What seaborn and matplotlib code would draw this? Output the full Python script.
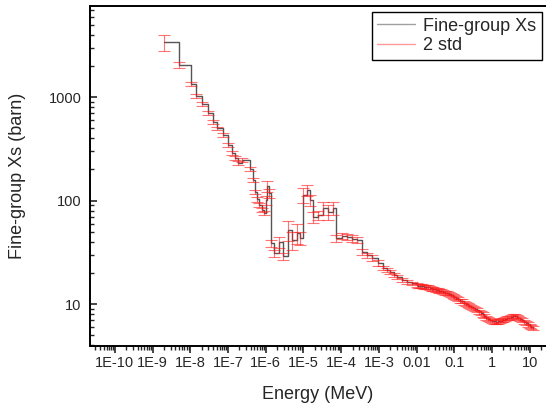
import numpy as np
import pandas as pd
import matplotlib
matplotlib.use("Agg")
import matplotlib.pyplot as plt
import seaborn as sns
from matplotlib.lines import Line2D
from matplotlib.ticker import LogLocator, NullFormatter

# group lower energies (MeV), cross sections (barn) and 2-std error (%)
e_thermal = [2.0e-9, 5.0e-9, 1.05e-8, 1.4e-8, 2.0e-8, 2.9e-8, 4.0e-8, 5.1e-8,
             7.3e-8, 1.0e-7, 1.26e-7, 1.5e-7, 1.8e-7, 2.3e-7, 3.8e-7, 4.6e-7,
             5.2e-7, 5.8e-7, 6.6e-7, 7.9e-7, 8.9e-7, 1.0e-6, 1.11e-6, 1.22e-6]
xs_thermal = [3400, 2040, 1340, 1020, 855, 700, 573, 500,
              430, 344, 288, 257, 230, 246, 201, 158,
              121, 103, 90.5, 81, 76, 101, 138, 118]
err_thermal = [18, 6, 4, 4, 4, 4, 4, 4,
               4, 4, 4, 4, 4, 4, 4, 4,
               5, 5, 5, 5, 5, 10, 12, 10]

e_reson = [1.37e-6, 1.65e-6, 2.25e-6, 2.9e-6, 3.9e-6, 4.95e-6, 6.7e-6, 8.1e-6,
           9.8e-6, 1.24e-5, 1.48e-5, 1.78e-5, 2.4e-5, 3.3e-5, 4.5e-5, 6.0e-5,
           7.2e-5, 1.05e-4, 1.42e-4, 1.94e-4, 2.6e-4, 3.55e-4, 4.8e-4, 6.6e-4,
           9.5e-4, 1.3e-3, 1.6e-3, 1.97e-3, 2.5e-3, 3.0e-3, 4.2e-3, 5.6e-3, 7.5e-3]
xs_reson = [38.8, 31.1, 39.7, 29.1, 51.9, 41.5, 48.5, 43.5,
            113, 126, 101, 69, 72.4, 84.7, 77.5, 84.7,
            43.5, 45.4, 44.4, 43.0, 41.5, 31.8, 29.7, 27.8,
            24.9, 22.3, 21.3, 20.4, 19.2, 18.2, 17.2, 16.3, 15.8]
err_reson = [8, 8, 12, 8, 22, 20, 22, 14,
             16, 12, 12, 12, 10, 14, 16, 14,
             8, 7, 7, 7, 7, 7, 6, 6,
             6, 5, 5, 5, 5, 5, 4, 4, 4]

e_fast = [0.010, 0.011, 0.0125, 0.014, 0.016, 0.018, 0.020, 0.0225, 0.025, 0.028,
          0.032, 0.036, 0.040, 0.045, 0.050, 0.056, 0.063, 0.071, 0.080, 0.090,
          0.10, 0.112, 0.125, 0.14, 0.16, 0.18, 0.20, 0.225, 0.25, 0.28,
          0.32, 0.36, 0.40, 0.45, 0.50, 0.56, 0.63, 0.71, 0.80, 0.90,
          1.0, 1.12, 1.25, 1.4, 1.6, 1.8, 2.0, 2.25, 2.5, 2.8,
          3.2, 3.6, 4.0, 4.5, 5.0, 5.6, 6.3, 7.1, 8.0, 9.0,
          10.0, 11.0, 12.0]
xs_fast = [15.3, 15.1, 14.9, 14.8, 14.7, 14.6, 14.5, 14.3, 14.1, 14.0,
           13.8, 13.6, 13.4, 13.3, 13.1, 12.9, 12.8, 12.5, 12.2, 11.9,
           11.6, 11.4, 11.1, 10.8, 10.6, 10.3, 10.1, 9.86, 9.63, 9.40,
           9.14, 8.92, 8.75, 8.47, 8.20, 7.93, 7.66, 7.41, 7.22, 7.06,
           6.92, 6.78, 6.72, 6.79, 6.87, 6.95, 7.02, 7.14, 7.26, 7.38,
           7.52, 7.65, 7.67, 7.57, 7.38, 7.16, 6.98, 6.76, 6.56, 6.35,
           6.18, 6.03, 5.89]
err_fast = 4.5

x_ticks = [1e-10, 1e-9, 1e-8, 1e-7, 1e-6, 1e-5, 1e-4, 1e-3, 1e-2, 1e-1, 1, 10]
x_labels = ["1E-10", "1E-9", "1E-8", "1E-7", "1E-6", "1E-5", "1E-4", "1E-3",
            "0.01", "0.1", "1", "10"]
y_ticks = [10, 100, 1000]
y_labels = ["10", "100", "1000"]

energy = e_thermal + e_reson + e_fast
xs = xs_thermal + xs_reson + xs_fast
pct = err_thermal + err_reson + [err_fast] * len(e_fast)
df = pd.DataFrame({"energy": energy, "xs": xs})
df["err"] = df["xs"] * np.array(pct) / 100

sns.set_style("ticks")
plt.rcParams["font.family"] = ["Liberation Sans", "DejaVu Sans"]

fig = plt.figure(figsize=(5.46, 4.05), dpi=100)
ax = fig.add_axes([90/546, 1 - 346/405, 456/546, 340/405])
ax.set_xscale("log")
ax.set_yscale("log")

sns.lineplot(data=df, x="energy", y="xs", drawstyle="steps-post", color="#555555",
             lw=1.0, ax=ax, legend=False, zorder=2)
ax.errorbar(df["energy"], df["xs"], yerr=df["err"], fmt="none", ecolor="#ff1a1a",
            elinewidth=0.8, capsize=4, capthick=0.8, alpha=0.6, zorder=3)

ax.set_xlim(10**-10.66, 10**1.43)
ax.set_ylim(3.93, 7600)

ax.set_xticks(x_ticks, x_labels)
ax.set_yticks(y_ticks, y_labels)
ax.xaxis.set_minor_locator(LogLocator(base=10, subs=np.arange(2, 10), numticks=100))
ax.yaxis.set_minor_locator(LogLocator(base=10, subs=np.arange(2, 10), numticks=100))
ax.xaxis.set_minor_formatter(NullFormatter())
ax.yaxis.set_minor_formatter(NullFormatter())

ax.tick_params(axis="x", which="major", direction="out", length=5, width=1.2, labelsize=10.5, pad=2, top=False)
ax.tick_params(axis="x", which="minor", direction="out", length=3, width=1.0, top=False)
ax.tick_params(axis="y", which="major", direction="in", length=5, width=1.2, labelsize=10.5, pad=6, right=False)
ax.tick_params(axis="y", which="minor", direction="in", length=3, width=1.0, right=False)

for s in ["left", "bottom", "top"]:
    ax.spines[s].set_linewidth(1.4)
    ax.spines[s].set_color("black")
ax.spines["right"].set_visible(False)

ax.set_xlabel("Energy (MeV)", fontsize=13)
ax.set_ylabel("Fine-group Xs (barn)", fontsize=13)
ax.xaxis.set_label_coords(0.5, -0.118)
ax.yaxis.set_label_coords(-0.14, 0.5)

handles = [Line2D([], [], color="#a0a0a0", lw=1.0), Line2D([], [], color="#ff9a9a", lw=1.0)]
leg = ax.legend(handles, ["Fine-group Xs", "2 std"], loc="upper right",
                bbox_to_anchor=(0.991, 0.982), fontsize=13, frameon=True, fancybox=False,
                edgecolor="black", framealpha=1, borderaxespad=0, handlelength=2.1,
                handletextpad=0.45, labelspacing=0.15, borderpad=0.3)
leg.get_frame().set_linewidth(1.0)

plt.savefig("out.png", dpi=100)
